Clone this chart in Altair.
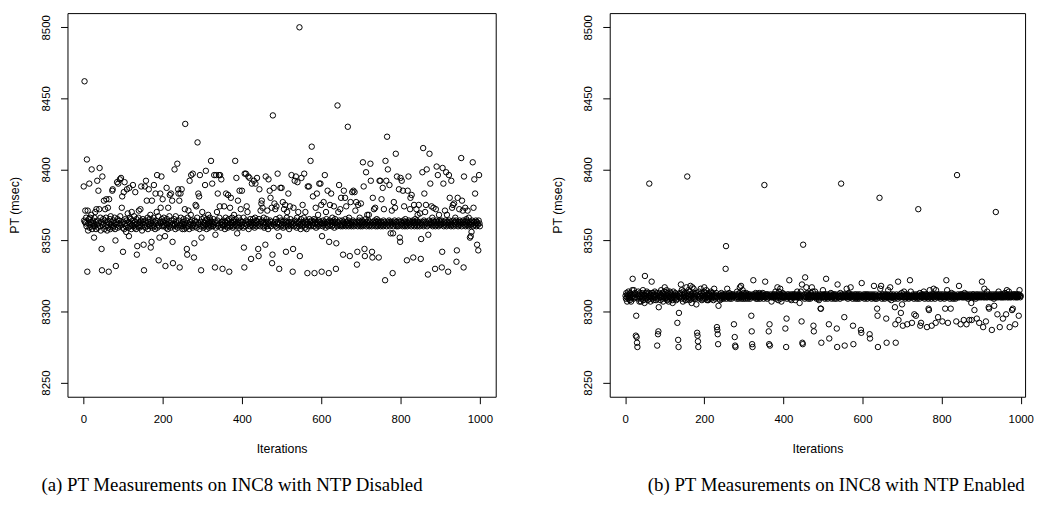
import altair as alt
import pandas as pd

# PT (msec) per iteration, NTP disabled (panel a)
pt_ntp_disabled = [
    8388, 8364, 8462, 8363, 8371, 8362, 8366, 8360, 8407, 8328, 8371, 8357, 8362, 8365, 8390, 8359, 8366, 8361, 8363, 8368, 8400, 8358, 8362, 8364, 8360,
    8362, 8352, 8366, 8360, 8370, 8363, 8358, 8372, 8361, 8392, 8364, 8359, 8385, 8362, 8372, 8401, 8360, 8366, 8357, 8363, 8344, 8329, 8395, 8361, 8365,
    8362, 8378, 8358, 8364, 8372, 8360, 8366, 8379, 8361, 8357, 8363, 8373, 8359, 8328, 8379, 8362, 8365, 8358, 8367, 8361, 8363, 8360, 8385, 8386, 8359,
    8364, 8360, 8362, 8366, 8358, 8350, 8332, 8363, 8361, 8391, 8365, 8359, 8390, 8362, 8364, 8360, 8393, 8367, 8361, 8394, 8362, 8373, 8381, 8359, 8342,
    8363, 8384, 8358, 8391, 8362, 8365, 8360, 8356, 8364, 8386, 8361, 8369, 8359, 8363, 8353, 8387, 8366, 8360, 8362, 8365, 8358, 8370, 8361, 8364, 8389,
    8360, 8362, 8367, 8359, 8363, 8384, 8361, 8358, 8365, 8340, 8346, 8362, 8360, 8366, 8371, 8359, 8363, 8361, 8372, 8364, 8388, 8360, 8357, 8362, 8365,
    8363, 8347, 8329, 8361, 8388, 8359, 8364, 8392, 8362, 8378, 8360, 8366, 8358, 8363, 8386, 8361, 8365, 8360, 8368, 8345, 8362, 8349, 8378, 8359, 8364,
    8361, 8366, 8389, 8360, 8363, 8358, 8383, 8364, 8362, 8370, 8396, 8359, 8361, 8367, 8336, 8360, 8352, 8363, 8383, 8373, 8362, 8395, 8365, 8360, 8379,
    8363, 8361, 8366, 8360, 8364, 8353, 8332, 8362, 8359, 8387, 8365, 8361, 8358, 8373, 8363, 8360, 8367, 8382, 8362, 8359, 8383, 8364, 8361, 8378, 8349,
    8334, 8362, 8360, 8365, 8400, 8361, 8358, 8367, 8363, 8360, 8362, 8404, 8359, 8386, 8383, 8364, 8378, 8331, 8361, 8383, 8366, 8360, 8386, 8362, 8358,
    8363, 8360, 8365, 8361, 8358, 8372, 8432, 8362, 8359, 8364, 8344, 8340, 8366, 8360, 8371, 8362, 8358, 8392, 8363, 8361, 8368, 8396, 8360, 8364, 8359,
    8397, 8362, 8361, 8338, 8348, 8364, 8360, 8375, 8363, 8374, 8359, 8366, 8419, 8361, 8383, 8362, 8381, 8358, 8396, 8363, 8360, 8329, 8352, 8365, 8370,
    8361, 8363, 8359, 8366, 8362, 8360, 8389, 8364, 8399, 8361, 8358, 8365, 8362, 8360, 8368, 8363, 8359, 8362, 8366, 8361, 8364, 8406, 8360, 8363, 8390,
    8362, 8360, 8365, 8361, 8396, 8363, 8331, 8354, 8359, 8396, 8362, 8370, 8364, 8383, 8360, 8361, 8396, 8366, 8374, 8396, 8362, 8359, 8393, 8363, 8361,
    8330, 8362, 8364, 8360, 8374, 8361, 8358, 8363, 8366, 8383, 8362, 8360, 8364, 8359, 8382, 8361, 8365, 8328, 8362, 8373, 8360, 8380, 8363, 8361, 8366,
    8362, 8359, 8364, 8360, 8368, 8363, 8361, 8406, 8365, 8362, 8394, 8360, 8355, 8363, 8378, 8361, 8366, 8359, 8385, 8362, 8364, 8372, 8360, 8363, 8385,
    8361, 8363, 8359, 8366, 8345, 8331, 8397, 8362, 8360, 8397, 8364, 8374, 8361, 8370, 8363, 8395, 8358, 8362, 8394, 8360, 8365, 8363, 8337, 8361, 8390,
    8362, 8360, 8365, 8363, 8392, 8361, 8359, 8366, 8390, 8362, 8364, 8360, 8394, 8363, 8361, 8344, 8339, 8365, 8386, 8362, 8360, 8371, 8363, 8376, 8378,
    8364, 8373, 8360, 8362, 8366, 8359, 8363, 8361, 8347, 8395, 8362, 8365, 8360, 8371, 8363, 8358, 8393, 8362, 8361, 8385, 8364, 8380, 8360, 8363, 8373,
    8334, 8340, 8438, 8362, 8387, 8361, 8376, 8363, 8372, 8360, 8365, 8374, 8362, 8359, 8397, 8363, 8361, 8353, 8330, 8366, 8362, 8387, 8360, 8364, 8387,
    8361, 8363, 8377, 8359, 8362, 8372, 8360, 8364, 8375, 8361, 8342, 8363, 8366, 8370, 8362, 8360, 8383, 8363, 8358, 8361, 8374, 8365, 8360, 8362, 8396,
    8363, 8361, 8328, 8344, 8373, 8362, 8360, 8392, 8364, 8361, 8395, 8363, 8359, 8366, 8391, 8362, 8370, 8360, 8363, 8500, 8339, 8361, 8358, 8365, 8394,
    8362, 8360, 8375, 8363, 8361, 8366, 8397, 8362, 8359, 8370, 8364, 8361, 8358, 8363, 8327, 8388, 8362, 8360, 8388, 8365, 8361, 8363, 8406, 8360, 8364,
    8416, 8362, 8361, 8381, 8363, 8360, 8365, 8327, 8362, 8364, 8373, 8359, 8363, 8383, 8361, 8362, 8368, 8360, 8364, 8390, 8361, 8363, 8390, 8362, 8375,
    8328, 8353, 8362, 8360, 8364, 8377, 8361, 8363, 8396, 8362, 8359, 8370, 8365, 8361, 8363, 8385, 8360, 8362, 8327, 8349, 8364, 8375, 8361, 8363, 8383,
    8362, 8360, 8366, 8363, 8361, 8364, 8374, 8359, 8362, 8365, 8363, 8330, 8348, 8361, 8360, 8445, 8363, 8370, 8362, 8389, 8364, 8361, 8372, 8360, 8380,
    8362, 8361, 8364, 8360, 8340, 8363, 8385, 8362, 8361, 8380, 8365, 8360, 8374, 8363, 8361, 8362, 8430, 8364, 8360, 8366, 8362, 8339, 8361, 8377, 8363,
    8360, 8362, 8384, 8361, 8364, 8385, 8360, 8363, 8384, 8362, 8371, 8361, 8377, 8363, 8333, 8342, 8360, 8375, 8362, 8364, 8361, 8366, 8363, 8360, 8376,
    8362, 8361, 8364, 8360, 8405, 8363, 8388, 8361, 8344, 8339, 8362, 8365, 8398, 8360, 8363, 8368, 8361, 8362, 8364, 8368, 8360, 8363, 8361, 8404, 8392,
    8362, 8360, 8342, 8338, 8380, 8363, 8361, 8372, 8362, 8364, 8373, 8360, 8363, 8361, 8365, 8362, 8360, 8363, 8364, 8338, 8361, 8392, 8362, 8392, 8360,
    8363, 8379, 8361, 8362, 8387, 8360, 8364, 8372, 8363, 8361, 8322, 8406, 8362, 8392, 8360, 8423, 8363, 8400, 8361, 8362, 8364, 8389, 8360, 8363, 8355,
    8362, 8361, 8371, 8363, 8327, 8355, 8360, 8377, 8362, 8364, 8373, 8361, 8411, 8363, 8360, 8395, 8362, 8361, 8360, 8364, 8386, 8363, 8352, 8349, 8394,
    8361, 8363, 8392, 8362, 8360, 8385, 8364, 8361, 8374, 8363, 8360, 8365, 8362, 8361, 8363, 8336, 8360, 8385, 8362, 8395, 8364, 8361, 8363, 8372, 8380,
    8362, 8360, 8382, 8363, 8361, 8364, 8338, 8362, 8375, 8360, 8363, 8365, 8361, 8362, 8372, 8364, 8360, 8368, 8363, 8361, 8375, 8362, 8360, 8369, 8363,
    8337, 8351, 8362, 8361, 8398, 8363, 8415, 8360, 8364, 8383, 8361, 8370, 8362, 8375, 8363, 8400, 8360, 8362, 8326, 8354, 8361, 8364, 8411, 8362, 8390,
    8363, 8361, 8374, 8362, 8366, 8360, 8364, 8373, 8361, 8363, 8362, 8330, 8360, 8372, 8364, 8402, 8361, 8363, 8396, 8362, 8360, 8368, 8364, 8361, 8362,
    8363, 8361, 8364, 8331, 8342, 8401, 8362, 8390, 8360, 8363, 8361, 8371, 8364, 8362, 8398, 8360, 8368, 8363, 8361, 8328, 8362, 8396, 8364, 8380, 8361,
    8363, 8360, 8392, 8362, 8373, 8361, 8375, 8364, 8360, 8376, 8362, 8363, 8366, 8361, 8364, 8335, 8343, 8362, 8380, 8360, 8363, 8361, 8372, 8364, 8362,
    8361, 8363, 8408, 8360, 8378, 8362, 8371, 8364, 8331, 8395, 8361, 8363, 8373, 8360, 8362, 8365, 8364, 8361, 8371, 8363, 8360, 8366, 8362, 8361, 8352,
    8363, 8353, 8361, 8356, 8364, 8362, 8405, 8360, 8373, 8363, 8393, 8361, 8383, 8362, 8364, 8360, 8363, 8347, 8362, 8361, 8343, 8364, 8396, 8362, 8360,
]

# PT (msec) per iteration, NTP enabled (panel b)
pt_ntp_enabled = [
    8311, 8309, 8313, 8310, 8307, 8312, 8311, 8314, 8309, 8312, 8310, 8308, 8313, 8311, 8307, 8312, 8310, 8315, 8323, 8311, 8309, 8315, 8312, 8310, 8313,
    8310, 8283, 8297, 8282, 8278, 8275, 8312, 8314, 8309, 8311, 8307, 8313, 8310, 8312, 8307, 8311, 8309, 8313, 8310, 8315, 8308, 8312, 8311, 8306, 8325,
    8311, 8309, 8313, 8310, 8314, 8312, 8308, 8311, 8310, 8313, 8390, 8309, 8312, 8307, 8311, 8310, 8321, 8313, 8309, 8313, 8311, 8308, 8312, 8310, 8314,
    8310, 8312, 8308, 8311, 8313, 8276, 8309, 8284, 8286, 8303, 8311, 8313, 8310, 8308, 8312, 8315, 8310, 8311, 8309, 8313, 8307, 8312, 8310, 8314, 8317,
    8311, 8309, 8312, 8310, 8315, 8308, 8313, 8311, 8309, 8307, 8312, 8310, 8314, 8311, 8313, 8309, 8312, 8310, 8308, 8306, 8311, 8314, 8310, 8312, 8309,
    8311, 8313, 8310, 8308, 8312, 8309, 8292, 8311, 8280, 8275, 8299, 8312, 8310, 8313, 8311, 8319, 8309, 8315, 8312, 8310, 8307, 8314, 8311, 8309, 8313,
    8312, 8310, 8308, 8311, 8317, 8313, 8395, 8309, 8311, 8315, 8310, 8312, 8308, 8314, 8318, 8311, 8309, 8306, 8312, 8317, 8310, 8313, 8316, 8309, 8311,
    8310, 8312, 8309, 8313, 8305, 8311, 8285, 8283, 8279, 8275, 8310, 8314, 8312, 8309, 8311, 8316, 8310, 8313, 8308, 8311, 8309, 8312, 8310, 8314, 8317,
    8311, 8309, 8313, 8310, 8315, 8312, 8308, 8311, 8310, 8308, 8313, 8309, 8312, 8311, 8312, 8310, 8314, 8309, 8311, 8313, 8310, 8312, 8308, 8311, 8316,
    8310, 8312, 8309, 8311, 8313, 8310, 8289, 8287, 8284, 8277, 8304, 8311, 8309, 8312, 8308, 8311, 8310, 8313, 8309, 8311, 8312, 8310, 8311, 8309, 8312,
    8311, 8310, 8312, 8330, 8346, 8309, 8311, 8316, 8310, 8312, 8311, 8310, 8313, 8309, 8311, 8312, 8310, 8311, 8309, 8312, 8311, 8310, 8312, 8311, 8291,
    8311, 8282, 8276, 8275, 8310, 8312, 8309, 8314, 8311, 8310, 8312, 8309, 8311, 8313, 8317, 8310, 8311, 8318, 8309, 8312, 8310, 8315, 8311, 8309, 8313,
    8310, 8312, 8311, 8309, 8311, 8313, 8310, 8312, 8311, 8309, 8311, 8312, 8310, 8311, 8312, 8309, 8311, 8310, 8297, 8286, 8277, 8275, 8312, 8322, 8310,
    8311, 8312, 8310, 8311, 8313, 8309, 8312, 8311, 8310, 8309, 8312, 8311, 8310, 8313, 8312, 8309, 8311, 8310, 8312, 8311, 8310, 8312, 8313, 8311, 8309,
    8311, 8389, 8310, 8321, 8312, 8311, 8310, 8312, 8309, 8311, 8312, 8310, 8286, 8277, 8291, 8276, 8311, 8312, 8310, 8307, 8311, 8310, 8311, 8312, 8310,
    8311, 8312, 8310, 8311, 8314, 8309, 8312, 8311, 8310, 8317, 8311, 8308, 8312, 8314, 8310, 8311, 8316, 8309, 8312, 8307, 8310, 8311, 8313, 8310, 8312,
    8311, 8310, 8312, 8311, 8288, 8310, 8275, 8295, 8309, 8312, 8311, 8310, 8312, 8311, 8322, 8310, 8311, 8309, 8312, 8308, 8311, 8310, 8310, 8312, 8311,
    8310, 8312, 8311, 8310, 8308, 8312, 8311, 8310, 8311, 8314, 8310, 8311, 8312, 8310, 8311, 8306, 8312, 8310, 8314, 8311, 8293, 8319, 8278, 8277, 8347,
    8311, 8310, 8312, 8309, 8324, 8311, 8310, 8317, 8312, 8313, 8310, 8311, 8309, 8312, 8310, 8311, 8312, 8309, 8310, 8313, 8311, 8317, 8310, 8314, 8311,
    8290, 8286, 8311, 8310, 8314, 8312, 8311, 8310, 8309, 8311, 8312, 8310, 8311, 8309, 8308, 8311, 8310, 8312, 8302, 8302, 8278, 8311, 8310, 8312, 8315,
    8311, 8310, 8312, 8311, 8309, 8310, 8312, 8323, 8311, 8310, 8312, 8309, 8311, 8310, 8291, 8281, 8311, 8312, 8310, 8313, 8311, 8309, 8310, 8311, 8312,
    8310, 8311, 8312, 8309, 8311, 8310, 8312, 8311, 8309, 8288, 8275, 8319, 8310, 8311, 8312, 8310, 8311, 8309, 8313, 8311, 8390, 8310, 8312, 8311, 8310,
    8311, 8310, 8312, 8296, 8276, 8311, 8310, 8312, 8311, 8316, 8310, 8311, 8309, 8312, 8313, 8310, 8311, 8312, 8310, 8317, 8311, 8310, 8312, 8311, 8309,
    8290, 8277, 8311, 8310, 8312, 8311, 8309, 8310, 8312, 8311, 8310, 8309, 8311, 8312, 8310, 8311, 8309, 8310, 8312, 8311, 8287, 8285, 8320, 8311, 8310,
    8311, 8310, 8312, 8311, 8309, 8310, 8312, 8311, 8310, 8311, 8312, 8309, 8311, 8310, 8312, 8311, 8310, 8284, 8281, 8310, 8312, 8311, 8309, 8310, 8311,
    8310, 8312, 8311, 8318, 8310, 8311, 8309, 8312, 8310, 8311, 8309, 8302, 8297, 8275, 8311, 8310, 8312, 8380, 8311, 8316, 8310, 8318, 8311, 8309, 8312,
    8311, 8310, 8312, 8311, 8310, 8309, 8311, 8312, 8310, 8295, 8278, 8311, 8310, 8312, 8315, 8311, 8310, 8309, 8311, 8317, 8310, 8312, 8308, 8311, 8310,
    8311, 8310, 8312, 8311, 8310, 8309, 8303, 8291, 8278, 8311, 8312, 8310, 8311, 8309, 8321, 8294, 8311, 8310, 8312, 8311, 8310, 8299, 8311, 8313, 8305,
    8311, 8290, 8310, 8312, 8314, 8311, 8310, 8309, 8311, 8312, 8310, 8311, 8291, 8310, 8312, 8311, 8309, 8310, 8311, 8322, 8310, 8314, 8311, 8310, 8292,
    8311, 8310, 8312, 8311, 8309, 8298, 8311, 8310, 8312, 8297, 8311, 8310, 8309, 8311, 8312, 8372, 8310, 8311, 8309, 8313, 8290, 8311, 8292, 8310, 8312,
    8311, 8310, 8312, 8311, 8314, 8310, 8309, 8311, 8312, 8311, 8310, 8312, 8289, 8311, 8310, 8309, 8302, 8301, 8311, 8315, 8310, 8312, 8311, 8309, 8290,
    8311, 8310, 8312, 8311, 8316, 8310, 8311, 8309, 8312, 8292, 8315, 8311, 8310, 8312, 8311, 8296, 8310, 8311, 8312, 8311, 8310, 8309, 8311, 8312, 8310,
    8311, 8293, 8310, 8312, 8311, 8310, 8309, 8311, 8302, 8310, 8312, 8322, 8311, 8315, 8310, 8292, 8311, 8312, 8310, 8311, 8309, 8312, 8302, 8310, 8313,
    8311, 8310, 8312, 8309, 8311, 8310, 8312, 8311, 8310, 8309, 8311, 8293, 8310, 8396, 8311, 8312, 8310, 8311, 8318, 8310, 8311, 8312, 8291, 8311, 8312,
    8310, 8311, 8312, 8310, 8311, 8294, 8310, 8313, 8311, 8312, 8310, 8311, 8291, 8310, 8312, 8311, 8309, 8311, 8310, 8294, 8311, 8312, 8310, 8311, 8306,
    8294, 8311, 8310, 8312, 8312, 8311, 8310, 8301, 8311, 8310, 8309, 8312, 8311, 8295, 8310, 8311, 8312, 8310, 8311, 8292, 8311, 8310, 8312, 8311, 8311,
    8310, 8321, 8311, 8312, 8289, 8310, 8311, 8316, 8310, 8312, 8311, 8293, 8310, 8311, 8314, 8310, 8312, 8311, 8303, 8302, 8311, 8310, 8312, 8311, 8310,
    8311, 8287, 8310, 8312, 8311, 8310, 8309, 8304, 8311, 8312, 8310, 8370, 8311, 8310, 8312, 8298, 8311, 8310, 8314, 8311, 8312, 8289, 8310, 8311, 8312,
    8310, 8311, 8312, 8310, 8295, 8311, 8310, 8312, 8311, 8313, 8310, 8311, 8298, 8312, 8315, 8310, 8311, 8312, 8310, 8314, 8311, 8289, 8310, 8312, 8311,
    8310, 8311, 8301, 8312, 8302, 8311, 8310, 8312, 8311, 8312, 8291, 8310, 8311, 8312, 8310, 8311, 8312, 8310, 8311, 8297, 8312, 8315, 8311, 8310, 8311,
]

x_ticks = [0, 200, 400, 600, 800, 1000]
y_ticks = [8250, 8300, 8350, 8400, 8450, 8500]
x_domain_a = [-40, 1040]
x_domain_b = [-39, 1011]
y_domain = [8240, 8510]

caption_a = "(a)  PT Measurements on INC8 with NTP Disabled"
caption_b = "(b)  PT Measurements on INC8 with NTP Enabled"

df_a = pd.DataFrame({"Iteration": list(range(1, len(pt_ntp_disabled) + 1)), "PT": pt_ntp_disabled})
df_b = pd.DataFrame({"Iteration": list(range(1, len(pt_ntp_enabled) + 1)), "PT": pt_ntp_enabled})

SANS = "Liberation Sans"
SERIF = "Liberation Serif"


def panel(df, caption, width, x_domain, dx):
    x_axis = alt.Axis(
        values=x_ticks, title="Iterations", domain=False, grid=False, format="d",
        tickSize=7, tickColor="black", labelPadding=10, titlePadding=18,
        labelFont=SANS, labelFontSize=11.5, labelColor="black",
        titleFont=SANS, titleFontSize=12.5, titleFontWeight="normal", titleColor="black",
        labelFlush=False,
    )
    y_axis = alt.Axis(
        values=y_ticks, title="PT (msec)", domain=False, grid=False, format="d",
        tickSize=7, tickColor="black", labelPadding=9, titlePadding=19,
        labelAngle=-90, labelAlign="center", labelBaseline="bottom",
        labelFont=SANS, labelFontSize=11.5, labelColor="black",
        titleFont=SANS, titleFontSize=12.5, titleFontWeight="normal", titleColor="black",
        labelFlush=False,
    )
    return alt.Chart(df).mark_point(
        shape="circle", filled=False, size=30, color="black", strokeWidth=1, opacity=1
    ).encode(
        x=alt.X("Iteration:Q", scale=alt.Scale(domain=x_domain, nice=False, zero=False), axis=x_axis),
        y=alt.Y("PT:Q", scale=alt.Scale(domain=y_domain, nice=False, zero=False), axis=y_axis),
    ).properties(
        width=width, height=387,
        title=alt.TitleParams(
            text=caption, orient="bottom", anchor="middle", frame="group", dx=dx,
            offset=21, font=SERIF, fontSize=19, fontWeight="normal", color="black",
        ),
    )


chart = alt.hconcat(
    panel(df_a, caption_a, 432, x_domain_a, -50),
    panel(df_b, caption_b, 419, x_domain_b, 19),
    spacing=54,
).properties(
    padding={"left": 0, "top": 2, "right": 0, "bottom": 0},
    background="white",
).configure_view(
    stroke="black", strokeWidth=1
)

chart.save("out.html", embed_options={"renderer": "svg", "actions": False})
